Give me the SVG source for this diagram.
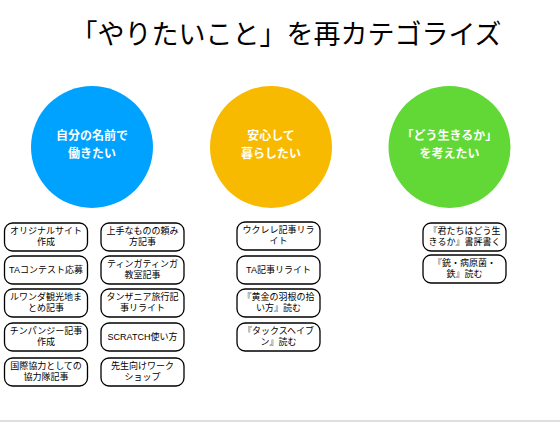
<svg xmlns="http://www.w3.org/2000/svg" width="560" height="422" viewBox="0 0 560 422">
<style>
.t{font-family:"Liberation Sans","Noto Sans CJK JP",sans-serif;text-anchor:middle}
.title{font-size:27px;fill:#000}
.ct{font-size:12px;font-weight:bold;fill:#fff}
.bx{fill:#fff;stroke:#000;stroke-width:1.3}
.bt{font-size:9px;fill:#000}
</style>
<rect x="0" y="0" width="560" height="422" fill="#fff"/>
<line x1="0" y1="421" x2="560" y2="421" stroke="#d4d4d4" stroke-width="1.5"/>
<text class="t title" x="286" y="43.5">「やりたいこと」を再カテゴライズ</text>
<g id="cat1"><circle cx="92" cy="147" r="61" fill="#00A2FF"/><text class="t ct" x="92" y="139.5">自分の名前で</text><text class="t ct" x="92" y="157.5">働きたい</text></g>
<g id="cat2"><circle cx="271" cy="147" r="61" fill="#F8BA00"/><text class="t ct" x="271" y="139.5">安心して</text><text class="t ct" x="271" y="157.5">暮らしたい</text></g>
<g id="cat3"><circle cx="449.5" cy="147" r="61" fill="#61D836"/><text class="t ct" x="449.5" y="139.5">「どう生きるか」</text><text class="t ct" x="449.5" y="157.5">を考えたい</text></g>
<g id="c1r1"><rect class="bx" x="4.5" y="223" width="83" height="28" rx="8"/><text class="t bt" x="46" y="233.5">オリジナルサイト</text><text class="t bt" x="46" y="244.5">作成</text></g>
<g id="c1r2"><rect class="bx" x="4.5" y="256" width="83" height="28" rx="8"/><text class="t bt" x="46" y="273">TAコンテスト応募</text></g>
<g id="c1r3"><rect class="bx" x="4.5" y="289" width="83" height="28" rx="8"/><text class="t bt" x="46" y="299.5">ルワンダ観光地ま</text><text class="t bt" x="46" y="310.5">とめ記事</text></g>
<g id="c1r4"><rect class="bx" x="4.5" y="323" width="83" height="28" rx="8"/><text class="t bt" x="46" y="333.5">チンパンジー記事</text><text class="t bt" x="46" y="344.5">作成</text></g>
<g id="c1r5"><rect class="bx" x="4.5" y="358" width="83" height="28" rx="8"/><text class="t bt" x="46" y="368.5">国際協力としての</text><text class="t bt" x="46" y="379.5">協力隊記事</text></g>
<g id="c2r1"><rect class="bx" x="101" y="223" width="83" height="28" rx="8"/><text class="t bt" x="142.5" y="233.5">上手なものの頼み</text><text class="t bt" x="142.5" y="244.5">方記事</text></g>
<g id="c2r2"><rect class="bx" x="101" y="256" width="83" height="28" rx="8"/><text class="t bt" x="142.5" y="266.5">ティンガティンガ</text><text class="t bt" x="142.5" y="277.5">教室記事</text></g>
<g id="c2r3"><rect class="bx" x="101" y="289" width="83" height="28" rx="8"/><text class="t bt" x="142.5" y="299.5">タンザニア旅行記</text><text class="t bt" x="142.5" y="310.5">事リライト</text></g>
<g id="c2r4"><rect class="bx" x="101" y="323" width="83" height="28" rx="8"/><text class="t bt" x="142.5" y="340">SCRATCH使い方</text></g>
<g id="c2r5"><rect class="bx" x="101" y="358" width="83" height="28" rx="8"/><text class="t bt" x="142.5" y="368.5">先生向けワーク</text><text class="t bt" x="142.5" y="379.5">ショップ</text></g>
<g id="c3r1"><rect class="bx" x="237" y="222" width="83" height="28" rx="8"/><text class="t bt" x="278.5" y="232.5">ウクレレ記事リラ</text><text class="t bt" x="278.5" y="243.5">イト</text></g>
<g id="c3r2"><rect class="bx" x="237" y="256" width="83" height="28" rx="8"/><text class="t bt" x="278.5" y="273">TA記事リライト</text></g>
<g id="c3r3"><rect class="bx" x="237" y="289" width="83" height="28" rx="8"/><text class="t bt" x="278.5" y="299.5">『黄金の羽根の拾</text><text class="t bt" x="278.5" y="310.5">い方』読む</text></g>
<g id="c3r4"><rect class="bx" x="237" y="323" width="83" height="28" rx="8"/><text class="t bt" x="278.5" y="333.5">『タックスヘイブ</text><text class="t bt" x="278.5" y="344.5">ン』読む</text></g>
<g id="c4r1"><rect class="bx" x="423" y="223" width="83" height="28" rx="8"/><text class="t bt" x="464.5" y="233.5">『君たちはどう生</text><text class="t bt" x="464.5" y="244.5">きるか』書評書く</text></g>
<g id="c4r2"><rect class="bx" x="423" y="255" width="83" height="28" rx="8"/><text class="t bt" x="464.5" y="265.5">『銃・病原菌・</text><text class="t bt" x="464.5" y="276.5">鉄』読む</text></g>
</svg>
